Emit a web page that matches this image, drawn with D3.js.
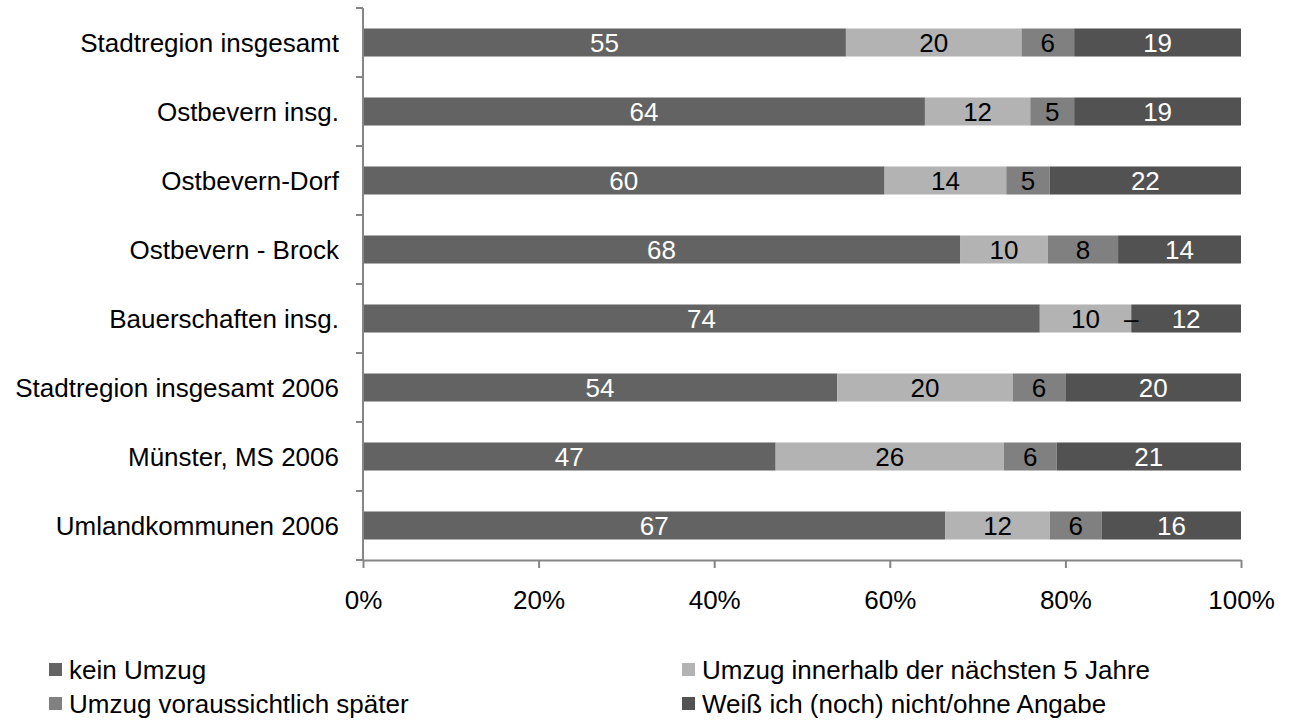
<!DOCTYPE html>
<html>
<head>
<meta charset="utf-8">
<script src="https://cdn.jsdelivr.net/npm/d3@7"></script>
<style>
  body { margin: 0; background: #fff; }
  svg { font-family: "Liberation Sans", Arial, sans-serif; }
</style>
</head>
<body>
<div id="chart"></div>
<script>
// categories (top to bottom)
const categories = [
  'Stadtregion insgesamt',
  'Ostbevern insg.',
  'Ostbevern-Dorf',
  'Ostbevern - Brock',
  'Bauerschaften insg.',
  'Stadtregion insgesamt 2006',
  'Münster, MS 2006',
  'Umlandkommunen 2006'
];

const seriesNames = [
  'kein Umzug',
  'Umzug innerhalb der nächsten 5 Jahre',
  'Umzug voraussichtlich später',
  'Weiß ich (noch) nicht/ohne Angabe'
];

// values per series, in category order
const keinUmzug   = [55, 64, 60, 68, 74, 54, 47, 67];
const innerhalb5  = [20, 12, 14, 10, 10, 20, 26, 12];
const spaeter     = [6, 5, 5, 8, 0, 6, 6, 6];
const weissNicht  = [19, 19, 22, 14, 12, 20, 21, 16];

// labels shown for the "später" series (a dash where there is no value)
const spaeterLabels = ['6', '5', '5', '8', '–', '6', '6', '6'];

const xTicks = [0, 0.2, 0.4, 0.6, 0.8, 1];

const colors = ['#636363', '#b3b3b3', '#808080', '#525252'];
const labelColors = ['#fff', '#000', '#000', '#fff'];

const width = 1293, height = 722;
const plotLeft = 363, plotRight = 1241, plotTop = 8, plotBottom = 560;

const svg = d3.select('#chart').append('svg')
  .attr('width', width)
  .attr('height', height);

const allSeries = [keinUmzug, innerhalb5, spaeter, weissNicht];

// build rows and normalise to 100 %
const rows = categories.map((c, i) => {
  const row = { cat: c };
  seriesNames.forEach((s, j) => row[s] = allSeries[j][i]);
  return row;
});
const stack = d3.stack().keys(seriesNames).offset(d3.stackOffsetExpand);
const stacked = stack(rows);

const x = d3.scaleLinear().domain([0, 1]).range([plotLeft, plotRight]);
const y = d3.scaleBand().domain(categories).range([plotTop, plotBottom])
  .paddingInner(0.594).paddingOuter(0.297);

const bands = svg.append('g');
stacked.forEach((layer, j) => {
  const g = bands.append('g').attr('fill', colors[j]);
  g.selectAll('rect')
    .data(layer)
    .join('rect')
    .attr('x', d => x(d[0]))
    .attr('y', d => y(d.data.cat))
    .attr('width', d => x(d[1]) - x(d[0]))
    .attr('height', y.bandwidth());
});

// value labels
stacked.forEach((layer, j) => {
  bands.append('g').selectAll('text')
    .data(layer)
    .join('text')
    .attr('x', d => (x(d[0]) + x(d[1])) / 2)
    .attr('y', d => y(d.data.cat) + y.bandwidth() / 2)
    .attr('dy', '0.36em')
    .attr('text-anchor', 'middle')
    .attr('fill', labelColors[j])
    .style('font-size', '26px')
    .text((d, i) => j === 2 ? spaeterLabels[i] : d.data[seriesNames[j]]);
});

// left axis: line with ticks at band boundaries
const axisColor = '#868686';
const step = y.step();
const boundaries = d3.range(categories.length + 1).map(i => plotTop + i * step);
const yAxis = svg.append('g');
yAxis.append('line')
  .attr('x1', plotLeft).attr('x2', plotLeft)
  .attr('y1', plotTop).attr('y2', plotBottom)
  .attr('stroke', axisColor).attr('stroke-width', 2);
yAxis.selectAll('.tick')
  .data(boundaries)
  .join('line')
  .attr('class', 'tick')
  .attr('x1', plotLeft - 7).attr('x2', plotLeft)
  .attr('y1', d => d).attr('y2', d => d)
  .attr('stroke', axisColor).attr('stroke-width', 2);
yAxis.selectAll('text')
  .data(categories)
  .join('text')
  .attr('x', 339)
  .attr('y', d => y(d) + y.bandwidth() / 2)
  .attr('dy', '0.36em')
  .attr('text-anchor', 'end')
  .style('font-size', '26px')
  .text(d => d);

// bottom axis
const xAxis = svg.append('g')
  .attr('transform', `translate(0,${plotBottom})`)
  .call(d3.axisBottom(x).tickValues(xTicks).tickFormat(d3.format('.0%'))
    .tickSize(8).tickSizeOuter(0).tickPadding(23));
xAxis.select('.domain').attr('stroke', axisColor).attr('stroke-width', 2);
xAxis.selectAll('.tick line').attr('stroke', axisColor).attr('stroke-width', 2);
xAxis.selectAll('.tick text')
  .attr('fill', '#000')
  .style('font-size', '26px')
  .style('font-family', '"Liberation Sans", Arial, sans-serif');

// legend
const legendPos = [
  { x: 49, y: 663 },
  { x: 682, y: 663 },
  { x: 49, y: 697 },
  { x: 682, y: 697 }
];
const legend = svg.append('g');
const items = legend.selectAll('g')
  .data(seriesNames)
  .join('g')
  .attr('transform', (d, i) => `translate(${legendPos[i].x},${legendPos[i].y})`);
items.append('rect')
  .attr('width', 13).attr('height', 13)
  .attr('fill', (d, i) => colors[i]);
items.append('text')
  .attr('x', 20)
  .attr('y', 6.5)
  .attr('dy', '0.36em')
  .style('font-size', '26px')
  .text(d => d);
</script>
</body>
</html>
